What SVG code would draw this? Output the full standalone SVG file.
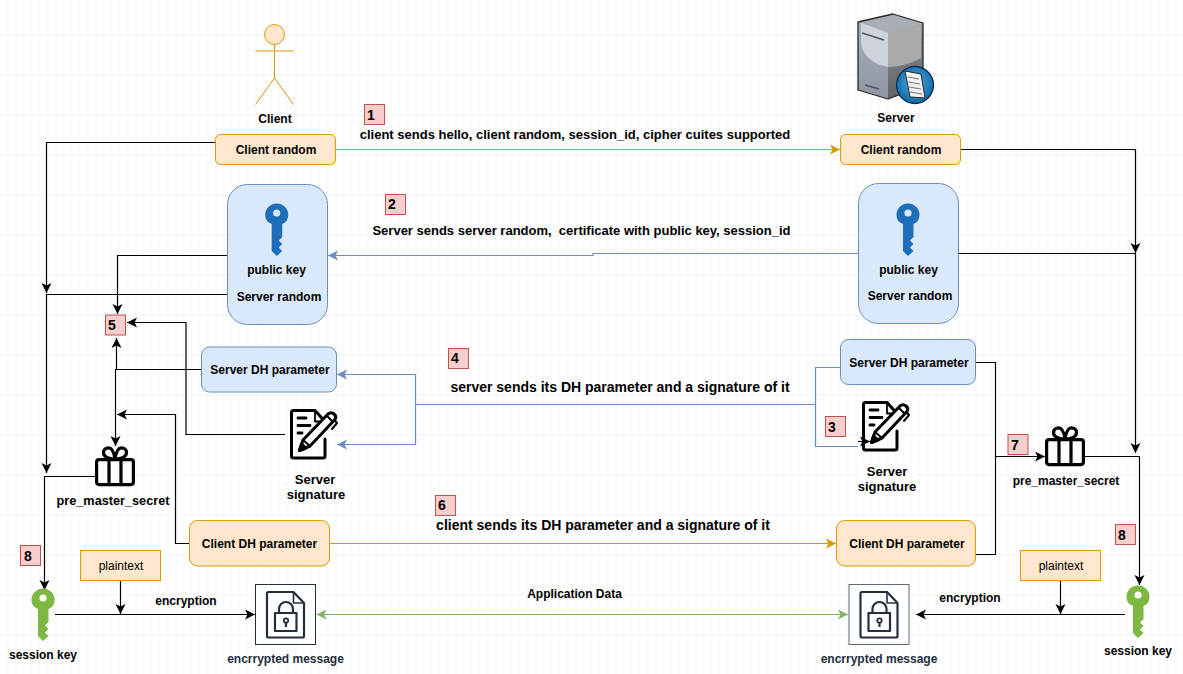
<svg xmlns="http://www.w3.org/2000/svg" width="1183" height="674" viewBox="0 0 1183 674">
<style>
text{font-family:"Liberation Sans",Arial,sans-serif;font-size:12px;font-weight:bold;fill:#000;text-anchor:middle}
.l{font-size:13px}
.x{font-size:14px}
.m{font-size:12.7px}
.r{font-weight:normal}
.d{fill:#232f3e}
.n{font-size:14px;text-anchor:start}
.o{fill:#ffe6cc;stroke:#d79b00;stroke-width:1}
.b{fill:#dae8fc;stroke:#6c8ebf;stroke-width:1}
.p{fill:#f8cecc;stroke:#b85450;stroke-width:1}
.c{fill:none;stroke-width:1.2}
.k{stroke:#000;marker-end:url(#ak)}
.kn{stroke:#000}
.bl{stroke:#6c8ebf;marker-end:url(#ab)}
.bn{stroke:#6c8ebf}
.og{stroke:#d79b00;marker-end:url(#ao)}
.gr{stroke:#82b366;marker-end:url(#ag);marker-start:url(#ags)}
.box{fill:#fff;stroke:#232f3e;stroke-width:1}
.ic{fill:none;stroke:#000;stroke-linecap:round;stroke-linejoin:round}
</style>
<defs>
<pattern id="grid" width="40" height="40" patternUnits="userSpaceOnUse" patternTransform="translate(15.5 34.5)">
<path d="M8 0V40M16 0V40M24 0V40M32 0V40M0 8H40M0 16H40M0 24H40M0 32H40" stroke="#f5f5f5" stroke-width="1" fill="none"/>
<path d="M0 0V40M0 0H40" stroke="#e8e8e8" stroke-width="1" fill="none"/>
</pattern>
<marker id="ak" markerUnits="userSpaceOnUse" markerWidth="12" markerHeight="12" refX="10" refY="5" orient="auto"><path d="M0 0L10 5L0 10L2.500 5Z" fill="#000"/></marker>
<marker id="ab" markerUnits="userSpaceOnUse" markerWidth="12" markerHeight="12" refX="10" refY="5" orient="auto"><path d="M0 0L10 5L0 10L2.500 5Z" fill="#6c8ebf"/></marker>
<marker id="ao" markerUnits="userSpaceOnUse" markerWidth="12" markerHeight="12" refX="10" refY="5" orient="auto"><path d="M0 0L10 5L0 10L2.500 5Z" fill="#d79b00"/></marker>
<marker id="ag" markerUnits="userSpaceOnUse" markerWidth="12" markerHeight="12" refX="10" refY="5" orient="auto"><path d="M0 0L10 5L0 10L2.500 5Z" fill="#82b366"/></marker>
<marker id="ags" markerUnits="userSpaceOnUse" markerWidth="12" markerHeight="12" refX="0" refY="5" orient="auto"><path d="M10 0L0 5L10 10L7.500 5Z" fill="#82b366"/></marker>
<path id="key" fill-rule="evenodd" d="M-11.500 0A11.500 11.500 0 0 1 11.500 0C11.500 4.500 9.500 7.500 5.500 9V22L2 25.500L5.500 29L2 32.500L5.500 36L0 41L-5 36V9C-9 7.500 -11.500 4.500 -11.500 0ZM-3.600 -2A3.600 3.600 0 1 0 3.600 -2A3.600 3.600 0 1 0 -3.600 -2Z"/>
<g id="gift" class="ic" stroke-width="3.200">
<rect x="1.600" y="13.600" width="36.800" height="25" rx="2.500"/>
<path d="M14 14V38M26 14V38"/>
<path d="M19 13C14 13 8.500 11 8.500 6.500C8.500 3.500 11 1.800 13.500 1.800C17 1.800 19 6 20 13C21 6 23 1.800 26.500 1.800C29 1.800 31.500 3.500 31.500 6.500C31.500 11 26 13 21 13"/>
</g>
<g id="sig" class="ic" stroke-width="3">
<path d="M35 30V47Q35 49 33 49H3.500Q1.500 49 1.500 47V3.500Q1.500 1.500 3.500 1.500H25L35 12.500V16"/>
<path d="M25 1.500V12.500H35" stroke-width="1.800"/>
<path d="M8 9H16M8 16.500H20M8 24H12" stroke-width="2.800"/>
<path d="M9.500 41.500L13 31L38 5Q41 2.500 44 5T45 10.500L20 37Z" fill="#fff"/>
<path d="M13 31L20 37M37 7L43 13" stroke-width="2"/>
<path d="M9.500 41.500L11.500 35L16 39Z" fill="#000"/>
<path d="M44.500 11L47 14L42 20" stroke-width="2"/>
</g>
<g id="lock" fill="none" stroke="#232f3e" stroke-linejoin="round">
<path d="M12 7.500H38L48.500 18.500V51.500Q48.500 53 47 53H13Q11.500 53 11.500 51.500V9Q11.500 7.500 13 7.500" stroke-width="2.200"/>
<path d="M38 7.500V18.500H48.500" stroke-width="1.600"/>
<rect x="19.500" y="28.500" width="21.500" height="18" stroke-width="2.200"/>
<path d="M23.500 28V24.500A7 7 0 0 1 37.500 24.500V28" stroke-width="2.200"/>
<circle cx="30.500" cy="36" r="2.200" stroke-width="1.800"/>
<path d="M30.500 38V42.500" stroke-width="2.200"/>
</g>
<linearGradient id="srvL" x1="0" y1="0" x2="0" y2="1"><stop offset="0" stop-color="#a8aeba"/><stop offset="1" stop-color="#8f96a2"/></linearGradient>
<linearGradient id="srvR" x1="0" y1="0" x2="0" y2="1"><stop offset="0" stop-color="#8f9296"/><stop offset="1" stop-color="#5f6367"/></linearGradient>
<radialGradient id="glb" cx=".5" cy=".45" r=".6"><stop offset="0" stop-color="#4fb2ea"/><stop offset="1" stop-color="#0b5f9e"/></radialGradient>
</defs>
<rect id="background" width="1183" height="674" fill="#fff"/>
<rect id="gridlines" width="1183" height="674" fill="url(#grid)"/>

<g id="connectors">
<path class="c og" d="M335.500 149.500H840"/>
<path class="c k" d="M215.500 142.500H46.500V293"/>
<path class="c k" d="M227.500 294.500H46.500V473"/>
<path class="c k" d="M95 476.500H44.500V590"/>
<path class="c k" d="M960.500 149.500H1135.500V253"/>
<path class="c k" d="M958 253.500H1135.500V453"/>
<path class="c k" d="M1085 456.500H1139.500V585"/>
<path class="c bl" d="M858 253.500H593V255.500H328"/>
<path class="c k" d="M227.500 255.500H117.500V314"/>
<path class="c k" d="M285 434.500H186V322.500H127"/>
<path class="c k" d="M201 369.500H116.500V338"/>
<path class="c k" d="M116.500 369.500H115.500V446"/>
<path class="c k" d="M189 543.500H175.500V414.500H117"/>
<path class="c bn" d="M840 367.500H815.500V446.500H858"/>
<path class="c k" d="M858 441.500H870"/>
<path class="c bn" d="M815.500 404.500H415.500"/>
<path class="c bl" d="M415.500 404.500V374.500H337"/>
<path class="c bl" d="M415.500 404.500V444.500H337"/>
<path class="c og" d="M329 543.500H836"/>
<path class="c k" d="M975.500 362.500H995.500V456.500H1045"/>
<path class="c kn" d="M975.500 554.500H995.500V456.500"/>
<path class="c k" d="M55 614.500H255"/>
<path class="c k" d="M120.500 580V614"/>
<path class="c gr" d="M316.500 614.500H848"/>
<path class="c k" d="M1125 614.500H916"/>
<path class="c k" d="M1060.500 580V614"/>
</g>

<g id="client">
<circle cx="274.500" cy="34.500" r="10" fill="#ffe6cc" stroke="#d79b00"/>
<path d="M274.500 44.500V78M255.500 51H293.500M274.500 78L255.500 104.500M274.500 78L293.500 104.500" fill="none" stroke="#d79b00" stroke-width="1"/>
<text x="275" y="123">Client</text>
</g>
<g id="server">
<path d="M858 22L893 14L923 23L888 33Z" fill="#a9adb5"/>
<path d="M858 22L888 33V99L858 90Z" fill="url(#srvL)"/>
<path d="M888 33L923 23V86L888 99Z" fill="url(#srvR)"/>
<path d="M861 23L888 33V67C872 64 861 55 861 40Z" fill="#ced2dc"/>
<path d="M888 33L921 24V58C910 64 898 67 888 67Z" fill="#aaaaaa"/>
<path d="M858 22L893 14L923 23V86L888 99L858 90Z" fill="none" stroke="#25282c" stroke-width="1.300" stroke-linejoin="round"/>
<path d="M862 33L884 40M865 85L879 89" stroke="#4d5660" stroke-width="1.500"/>
<circle cx="915" cy="85" r="18.500" fill="url(#glb)" stroke="#0a2f4f" stroke-width="1.300"/>
<path d="M905 71L921 74L925 98L910 97Z" fill="#f2f2f2" stroke="#20262c"/>
<path d="M908 77L919 79M908.500 82L920 84M909 87L921 89M910 92L922 94" stroke="#555" stroke-width=".8"/>
<text x="896" y="122">Server</text>
</g>
<g id="client-random-left"><rect class="o" x="215.500" y="134.500" width="120" height="30" rx="5"/><text x="276" y="154">Client random</text></g>
<g id="client-random-right"><rect class="o" x="840.500" y="134.500" width="120" height="30" rx="5"/><text x="901" y="154">Client random</text></g>
<g id="public-key-left"><rect class="b" x="227.500" y="184.500" width="100" height="140" rx="20"/><use href="#key" x="276.700" y="215" fill="#1f6eb9"/><text x="276.500" y="274">public key</text><text x="279" y="301">Server random</text></g>
<g id="public-key-right"><rect class="b" x="858.500" y="183.500" width="100" height="140" rx="20"/><use href="#key" x="908" y="215" fill="#1f6eb9"/><text x="908.500" y="274">public key</text><text x="910" y="300">Server random</text></g>
<g id="server-dh-left"><rect class="b" x="201.500" y="347" width="135" height="45" rx="8"/><text x="270" y="374">Server DH parameter</text></g>
<g id="server-dh-right"><rect class="b" x="840.500" y="339.500" width="135" height="45" rx="8"/><text x="909" y="367">Server DH parameter</text></g>
<g id="server-signature-left"><use href="#sig" x="290" y="409"/><rect x="290" y="472" width="48" height="13" fill="#fff"/><text class="l" x="315" y="484">Server</text><rect x="286" y="487" width="60" height="15" fill="#fff"/><text class="l" x="316" y="499">signature</text></g>
<g id="server-signature-right"><use href="#sig" x="862" y="401"/><rect x="858" y="464" width="58" height="13" fill="#fff"/><text class="l" x="887" y="476">Server</text><rect x="858" y="479" width="60" height="15" fill="#fff"/><text class="l" x="887" y="491">signature</text></g>
<g id="gift-left"><use href="#gift" x="95" y="446"/><text class="m" x="113" y="505">pre_master_secret</text></g>
<g id="gift-right"><use href="#gift" x="1045" y="426"/><text x="1066" y="485">pre_master_secret</text></g>
<g id="client-dh-left"><rect class="o" x="189.500" y="520.500" width="140" height="45.500" rx="8"/><text x="259.500" y="548">Client DH parameter</text></g>
<g id="client-dh-right"><rect class="o" x="836.500" y="520.500" width="139" height="45.500" rx="8"/><text x="907" y="548">Client DH parameter</text></g>
<g id="plaintext-left"><rect class="o" x="80.500" y="550.500" width="80" height="30"/><text class="r" x="121" y="570">plaintext</text></g>
<g id="plaintext-right"><rect class="o" x="1020.500" y="550.500" width="80" height="30"/><text class="r" x="1061" y="570">plaintext</text></g>
<g id="session-key-left"><use href="#key" x="43" y="600" fill="#7eb843"/><text x="43" y="659">session key</text></g>
<g id="session-key-right"><use href="#key" x="1138" y="597" fill="#7eb843"/><text x="1138" y="655">session key</text></g>
<g id="message-left"><rect class="box" x="255.500" y="584.500" width="60" height="60"/><use href="#lock" x="255.500" y="584.500"/><text class="d" x="285.500" y="663">encrrypted message</text></g>
<g id="message-right"><rect x="849" y="584.500" width="60" height="60" fill="#fff" stroke="#5f6875"/><use href="#lock" x="849" y="584.500"/><text class="d" x="879" y="663">encrrypted message</text></g>

<g id="badge-1"><rect class="p" x="364.500" y="104.500" width="20" height="20"/><text class="n" x="367" y="120">1</text></g>
<g id="badge-2"><rect class="p" x="385.500" y="194.500" width="20" height="20"/><text class="n" x="388" y="209">2</text></g>
<g id="badge-3"><rect class="p" x="825.500" y="416.500" width="20" height="20"/><text class="n" x="828" y="432">3</text></g>
<g id="badge-4"><rect class="p" x="448.500" y="348.500" width="20" height="20"/><text class="n" x="451" y="363">4</text></g>
<g id="badge-5"><rect class="p" x="105.500" y="315" width="20" height="20"/><text class="n" x="108" y="330">5</text></g>
<g id="badge-6"><rect class="p" x="435.500" y="495.500" width="20" height="20"/><text class="n" x="438" y="510">6</text></g>
<g id="badge-7"><rect class="p" x="1008" y="434.500" width="20" height="20"/><text class="n" x="1011" y="450">7</text></g>
<g id="badge-8-left"><rect class="p" x="20.500" y="545.500" width="20" height="20"/><text class="n" x="24" y="561">8</text></g>
<g id="badge-8-right"><rect class="p" x="1115.500" y="524.500" width="20" height="20"/><text class="n" x="1118" y="540">8</text></g>

<g id="labels">
<text class="l" x="575" y="139">client sends hello, client random, session_id, cipher cuites supported</text>
<text class="l" x="581.500" y="235">Server sends server random, &#160;certificate with public key, session_id</text>
<text class="x" x="620" y="392">server sends its DH parameter and a signature of it</text>
<text class="x" x="603" y="530">client sends its DH parameter and a signature of it</text>
<text x="574.500" y="598">Application Data</text>
<text x="186" y="605">encryption</text>
<text x="970" y="602">encryption</text>
</g>
</svg>
